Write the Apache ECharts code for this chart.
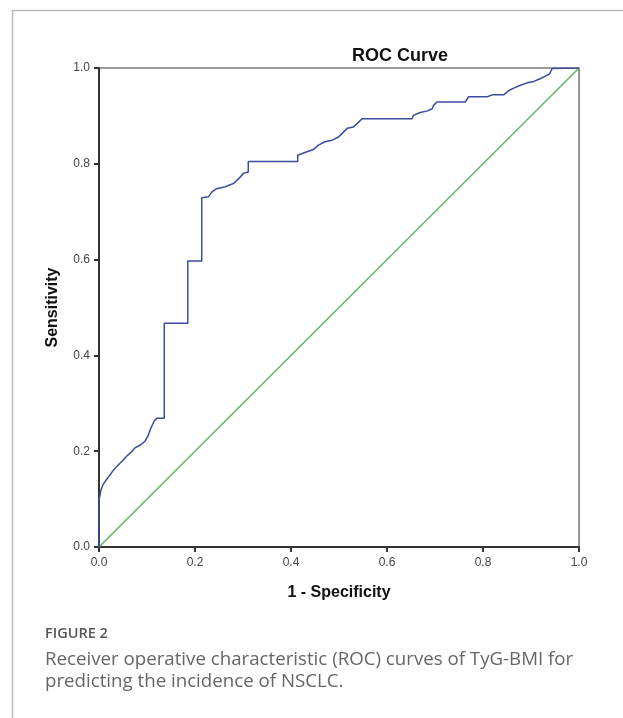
<!DOCTYPE html>
<html>
<head>
<meta charset="utf-8">
<script src="https://cdn.jsdelivr.net/npm/echarts@6/dist/echarts.min.js"></script>
<style>
  html, body { margin: 0; padding: 0; background: #fff; }
  #chart { width: 623px; height: 718px; }
</style>
</head>
<body>
<div id="chart"></div>
<script>
// ROC curve points: [1 - specificity, sensitivity]
var rocPoints = [
  [0, 0], [0, 0.098], [0.003, 0.113], [0.004, 0.119], [0.008, 0.129],
  [0.015, 0.140], [0.021, 0.148], [0.029, 0.159], [0.038, 0.169],
  [0.048, 0.179], [0.058, 0.190], [0.067, 0.198], [0.075, 0.207],
  [0.086, 0.213], [0.096, 0.221], [0.102, 0.232], [0.108, 0.248],
  [0.115, 0.263], [0.121, 0.269], [0.136, 0.269], [0.136, 0.467],
  [0.185, 0.467], [0.185, 0.597], [0.214, 0.597], [0.214, 0.729],
  [0.228, 0.731], [0.235, 0.741], [0.245, 0.748], [0.263, 0.752],
  [0.280, 0.759], [0.291, 0.769], [0.301, 0.780], [0.311, 0.783],
  [0.311, 0.805], [0.414, 0.805], [0.414, 0.818], [0.433, 0.825],
  [0.447, 0.830], [0.457, 0.839], [0.471, 0.846], [0.485, 0.849],
  [0.499, 0.856], [0.506, 0.863], [0.517, 0.874], [0.530, 0.877],
  [0.541, 0.887], [0.548, 0.894], [0.652, 0.894], [0.655, 0.901],
  [0.669, 0.907], [0.683, 0.910], [0.694, 0.915], [0.697, 0.922],
  [0.704, 0.929], [0.763, 0.929], [0.770, 0.940], [0.809, 0.940],
  [0.819, 0.944], [0.843, 0.944], [0.854, 0.953], [0.864, 0.958],
  [0.878, 0.964], [0.892, 0.969], [0.906, 0.972], [0.920, 0.978],
  [0.930, 0.983], [0.939, 0.988], [0.944, 0.999], [1.0, 1.0]
]
// reference (chance) line
var refLine = [[0, 0], [1, 1]]
var axisTicks = [0, 0.2, 0.4, 0.6, 0.8, 1.0]

var chart = echarts.init(document.getElementById('chart'), null, { renderer: 'canvas' })

var axisFont = 'Liberation Sans, Arial, sans-serif'
var captionFont = 'Open Sans, Noto Sans, sans-serif'

chart.setOption({
  animation: false,
  backgroundColor: '#fff',
  title: {
    text: 'ROC Curve',
    left: 347,
    top: 42,
    textStyle: {
      fontFamily: axisFont,
      fontSize: 18,
      fontWeight: 'bold',
      color: '#111'
    }
  },
  grid: {
    left: 99,
    right: 44,
    top: 68,
    bottom: 171,
    show: true,
    borderColor: '#777',
    borderWidth: 1.5
  },
  xAxis: {
    type: 'value',
    min: 0,
    max: 1,
    interval: 0.2,
    name: '1 - Specificity',
    nameLocation: 'middle',
    nameGap: 38,
    nameTextStyle: { fontFamily: axisFont, fontSize: 16, fontWeight: 'bold', color: '#111' },
    axisLine: { show: true, lineStyle: { color: '#333', width: 2 } },
    axisTick: { show: true, length: 5, lineStyle: { color: '#333', width: 2 } },
    axisLabel: {
      margin: 10,
      fontFamily: axisFont,
      fontSize: 12,
      color: '#444',
      formatter: function (v) { return axisTicks.indexOf(v) >= 0 ? v.toFixed(1) : '' }
    },
    splitLine: { show: false }
  },
  yAxis: {
    type: 'value',
    min: 0,
    max: 1,
    interval: 0.2,
    name: 'Sensitivity',
    nameLocation: 'middle',
    nameGap: 38,
    nameTextStyle: { fontFamily: axisFont, fontSize: 16, fontWeight: 'bold', color: '#111' },
    axisLine: { show: true, lineStyle: { color: '#333', width: 2 } },
    axisTick: { show: true, length: 5, lineStyle: { color: '#333', width: 2 } },
    axisLabel: {
      margin: 9,
      fontFamily: axisFont,
      fontSize: 12,
      color: '#444',
      formatter: function (v) { return v.toFixed(1) }
    },
    splitLine: { show: false }
  },
  series: [{
    name: 'Reference Line',
    type: 'line',
    data: refLine,
    symbol: 'none',
    lineStyle: { color: '#5fb65f', width: 1.5 },
    z: 2
  }, {
    name: 'TyG-BMI',
    type: 'line',
    data: rocPoints,
    symbol: 'none',
    lineStyle: { color: '#3d4c9e', width: 1.5 },
    z: 3
  }],
  graphic: [
    // outer figure frame (only left and top edges are visible)
    {
      type: 'polyline',
      shape: { points: [[12.5, 718], [12.5, 10.5], [623, 10.5]] },
      style: { stroke: '#bbb', lineWidth: 1.5, fill: null }
    },
    {
      type: 'text',
      left: 45,
      top: 626,
      style: {
        text: 'FIGURE 2',
        font: '600 14.5px ' + captionFont,
        fill: '#555'
      }
    },
    {
      type: 'text',
      left: 45,
      top: 649,
      style: {
        text: 'Receiver operative characteristic (ROC) curves of TyG-BMI for\npredicting the incidence of NSCLC.',
        font: '18.7px ' + captionFont,
        lineHeight: 22,
        fill: '#666'
      }
    }
  ]
})
</script>
</body>
</html>
